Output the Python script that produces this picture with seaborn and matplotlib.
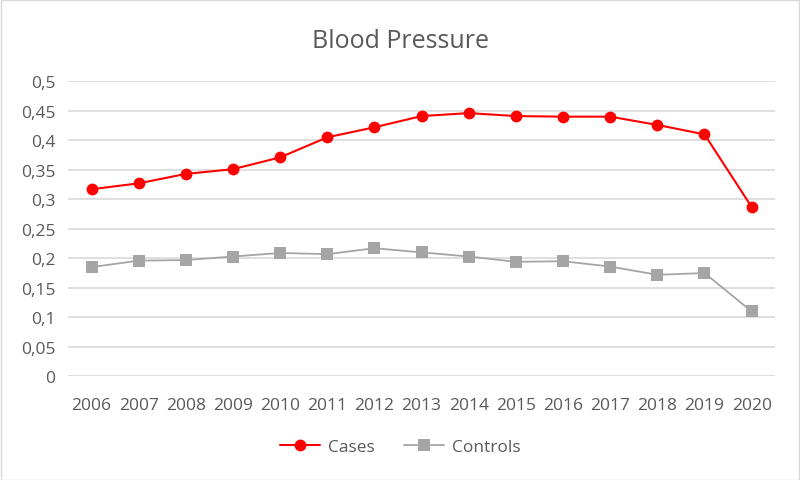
import matplotlib
matplotlib.use("Agg")
import matplotlib.pyplot as plt
import seaborn as sns
import pandas as pd
from matplotlib.patches import Rectangle
from matplotlib.lines import Line2D

years = [2006, 2007, 2008, 2009, 2010, 2011, 2012, 2013, 2014, 2015, 2016, 2017, 2018, 2019, 2020]
cases = [0.317, 0.327, 0.343, 0.351, 0.371, 0.405, 0.422, 0.441, 0.446, 0.441, 0.440, 0.440, 0.426, 0.410, 0.287]
controls = [0.185, 0.196, 0.197, 0.203, 0.209, 0.207, 0.217, 0.210, 0.203, 0.194, 0.195, 0.186, 0.172, 0.175, 0.110]
y_ticks = [0, 0.05, 0.1, 0.15, 0.2, 0.25, 0.3, 0.35, 0.4, 0.45, 0.5]
y_labels = ["0", "0,05", "0,1", "0,15", "0,2", "0,25", "0,3", "0,35", "0,4", "0,45", "0,5"]

df = pd.DataFrame({
    "Year": years * 2,
    "Value": cases + controls,
    "Series": ["Cases"] * len(years) + ["Controls"] * len(years),
})

sns.set_style("white")
plt.rcParams["font.family"] = ["Open Sans", "DejaVu Sans"]
text_color = "#595959"

fig = plt.figure(figsize=(8, 4.81), dpi=100)
ax = fig.add_axes([0.085, 0.2156, 0.884, 0.6134])

sns.lineplot(data=df, x="Year", y="Value", hue="Series", style="Series",
             palette={"Cases": "#FF0000", "Controls": "#A5A5A5"},
             markers={"Cases": "o", "Controls": "s"},
             dashes={"Cases": "", "Controls": ""},
             markersize=8.5, markeredgewidth=0, ax=ax, legend=False)
for line, lw in zip(ax.lines, [1.5, 1.3]):
    line.set_linewidth(lw)

ax.set_xlim(2005.5, 2020.5)
ax.set_ylim(0, 0.5)
ax.set_xticks(years)
ax.set_xticklabels([str(y) for y in years])
ax.set_yticks(y_ticks)
ax.set_yticklabels(y_labels)
ax.tick_params(axis="both", length=0, labelsize=12.5, colors=text_color)
ax.tick_params(axis="x", pad=15)
ax.tick_params(axis="y", pad=9)
ax.grid(axis="y", color="#D9D9D9", linewidth=1.2)
ax.set_axisbelow(True)
for s in ax.spines.values():
    s.set_visible(False)
ax.set_xlabel("")
ax.set_ylabel("")

fig.text(0.5, 0.913, "Blood Pressure", ha="center", va="center", fontsize=18, color=text_color)

handles = [
    Line2D([0], [0], color="#FF0000", lw=1.5, marker="o", markersize=8.5, markeredgewidth=0),
    Line2D([0], [0], color="#A5A5A5", lw=1.3, marker="s", markersize=8.5, markeredgewidth=0),
]
fig.legend(handles, ["Cases", "Controls"], loc="center", bbox_to_anchor=(0.5, 0.068),
           ncol=2, frameon=False, fontsize=12.5, labelcolor=text_color,
           handlelength=2.3, columnspacing=1.7, handletextpad=0.45)

fig.patches.append(Rectangle((0.001, 0.001), 0.998, 0.997, transform=fig.transFigure,
                             fill=False, edgecolor="#D9D9D9", linewidth=1))

fig.savefig("out.png", dpi=100)
